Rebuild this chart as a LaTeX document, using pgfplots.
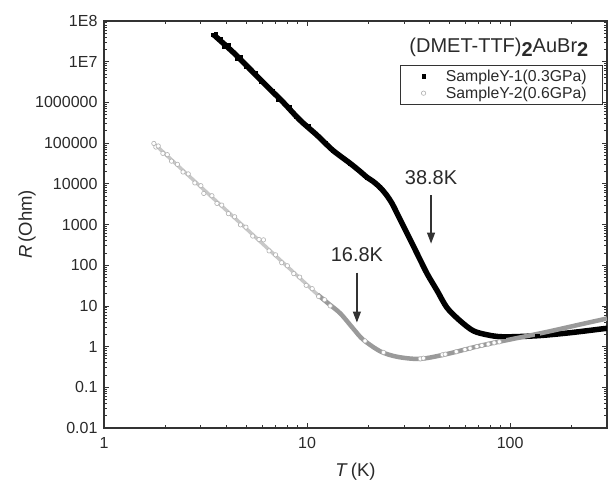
\documentclass[border=0pt]{standalone}
\usepackage{pgfplots}
\pgfplotsset{compat=1.18}
\usepackage{fontspec}
\setmainfont{Liberation Sans}
\setsansfont{Liberation Sans}
\usetikzlibrary{arrows.meta}
\definecolor{axisgray}{HTML}{333333}
\definecolor{ticktext}{HTML}{2A2A2A}
\definecolor{graymid}{HTML}{9A9A9A}
\definecolor{graylight}{HTML}{C8C8C8}
\definecolor{circgray}{HTML}{B0B0B0}

\begin{document}
\begin{tikzpicture}
\begin{axis}[
  at={(0pt,0pt)}, anchor=south west,
  scale only axis, width=503pt, height=407pt,
  xmode=log, ymode=log,
  xmin=1, xmax=300, ymin=0.01, ymax=1e8,
  xtick={1,10,100}, xticklabels={1,10,100},
  minor xtick={2,3,4,5,6,7,8,9,20,30,40,50,60,70,80,90,200},
  ytick={1e-2,1e-1,1,1e1,1e2,1e3,1e4,1e5,1e6,1e7,1e8},
  yticklabels={0.01,0.1,1,10,100,1000,10000,100000,1000000,1E7,1E8},
  minor ytick={2e-2,3e-2,4e-2,5e-2,6e-2,7e-2,8e-2,9e-2,
    2e-1,3e-1,4e-1,5e-1,6e-1,7e-1,8e-1,9e-1,
    2,3,4,5,6,7,8,9,20,30,40,50,60,70,80,90,
    200,300,400,500,600,700,800,900,
    2e3,3e3,4e3,5e3,6e3,7e3,8e3,9e3,
    2e4,3e4,4e4,5e4,6e4,7e4,8e4,9e4,
    2e5,3e5,4e5,5e5,6e5,7e5,8e5,9e5,
    2e6,3e6,4e6,5e6,6e6,7e6,8e6,9e6,
    2e7,3e7,4e7,5e7,6e7,7e7,8e7,9e7},
  tick align=inside,
  major tick length=5pt, minor tick length=2.8pt,
  every tick/.style={axisgray, line width=0.8pt},
  axis line style={axisgray, line width=1.1pt},
  tick label style={font=\fontsize{16}{18}\selectfont, text=ticktext},
  xticklabel style={yshift=-6pt},
  yticklabel style={xshift=-3pt},
  xlabel={\textit{T}\,(K)}, ylabel={\textit{R}\,(Ohm)},
  label style={font=\fontsize{18.5}{21}\selectfont, text=ticktext},
  xlabel style={at={(axis description cs:0.5,-0.108)}, anchor=center},
  ylabel style={at={(axis description cs:-0.153,0.5)}, anchor=center},
  legend image code/.code={\node[inner sep=0pt, minimum width=22pt, anchor=west] at (0pt,0pt) {};
    \draw[#1] plot coordinates {(10pt,0pt)};},
  legend style={at={(0.992,0.892)}, anchor=north east, draw=axisgray,
    line width=0.6pt, font=\fontsize{15.8}{18}\selectfont, text=ticktext,
    inner xsep=14pt, inner ysep=2.5pt, nodes={inner sep=2pt}, row sep=0pt,
    /tikz/every odd column/.append style={column sep=8pt}},
  legend cell align=left,
]
% Sample Y-1 line
\addplot[black, line width=5.5pt, smooth, tension=0.5, forget plot] coordinates {
(3.47,4.6e7) (4.35,1.66e7) (5.28,6.3e6) (6.40,2.4e6) (7.67,9.8e5) (9.24,3.65e5)
(11.2,1.56e5) (13.4,6.65e4) (16.3,3.18e4) (18.24,20200) (19.75,14400) (21.14,11460)
(22.88,8150) (24.5,5480) (26.22,3290) (28.08,1667) (30.05,844) (32.17,428)
(34.83,193) (39.0,62) (43.7,23.7) (48.9,9.0) (56.7,4.3) (65.8,2.45) (77.1,1.95)
(92.4,1.74) (136,1.85) (197,2.19) (286,2.74) (300,2.8)};
% Sample Y-1 points
\addplot[only marks, mark=square*, mark size=1.6pt, black] coordinates {
(3.42,4.7e7) (3.55,4.9e7) (3.75,3.7e7) (3.9,2.3e7) (4.1,2.6e7) (4.5,1.2e7)
(4.7,1.3e7) (5.0,7.5e6) (5.6,5.4e6) (5.9,3.2e6) (6.8,1.96e6) (7.2,1.2e6)
(8.2,7.6e5) (8.8,4.4e5) (10.2,2.6e5) (12.3,9.9e4)
(13.4,6.65e4) (16.3,3.18e4) (19.75,14400) (22.88,8150) (30.05,844) (39.0,62)
(48.9,9.0) (65.8,2.45) (92.4,1.74) (136,1.85) (197,2.19)};
\addlegendentry{SampleY-1(0.3GPa)}
% Sample Y-2 lines
\addplot[graylight, line width=3.5pt, smooth, tension=0.5, forget plot] coordinates {
(1.76,9.8e4) (2.2,3.5e4) (2.68,1.41e4) (3.3,5.4e3) (4.0,2.24e3) (4.88,900)
(6.0,347) (7.2,150) (8.58,67) (10,33) (11.26,19) (12.8,11.2) (14.6,6.5)};
\addplot[graymid, line width=4.5pt, smooth, tension=0.5, forget plot] coordinates {
(11.26,19) (12.8,11.2) (14.6,6.5) (16.9,2.75) (18.9,1.48) (23.0,0.76) (27.9,0.56)
(36.1,0.50) (49.0,0.66) (71.2,1.05) (103.5,1.55) (152,2.3) (221,3.5) (300,4.9)};
% Sample Y-2 points
\addplot[only marks, mark=*, mark size=2.2pt, mark options={draw=circgray, fill=white, line width=0.6pt}] coordinates {
(1.76,9.8e4) (1.8,8.0e4) (1.85,8.5e4) (1.95,5.6e4) (2.05,5.2e4) (2.15,3.6e4)
(2.3,3.0e4) (2.45,1.95e4) (2.6,1.75e4) (2.8,1.05e4) (3.0,9.0e3) (3.1,5.8e3)
(3.4,5.1e3) (3.6,3.3e3) (3.8,3.0e3) (4.1,1.85e3) (4.4,1.55e3) (4.7,980)
(5.0,860) (5.4,520) (5.8,430) (6.1,420) (6.5,225) (7.0,180) (7.5,115) (8.0,97)
(8.6,62) (9.2,51) (9.9,32) (10.6,26.5) (11.4,17) (12.2,14.2) (13.0,10)
(19.3,1.38) (23.8,0.72) (36.1,0.50) (37.4,0.52) (46.4,0.63) (47.9,0.65)
(54.3,0.75) (59.9,0.845) (63.5,0.91) (68.6,1.0) (72.6,1.07) (78,1.15)
(83.4,1.24) (88.5,1.31)};
\addlegendentry{SampleY-2(0.6GPa)}
% annotations
\node[font=\fontsize{20}{22}\selectfont, text=ticktext] at (axis cs:17.6,182) {16.8K};
\draw[-{Triangle[length=11pt,width=8pt]}, line width=1.2pt, axisgray]
  (axis cs:17.6,66) -- (axis cs:17.6,3.9);
\node[font=\fontsize{20}{22}\selectfont, text=ticktext] at (axis cs:40.8,14400) {38.8K};
\draw[-{Triangle[length=11pt,width=8pt]}, line width=1.2pt, axisgray]
  (axis cs:40.8,5180) -- (axis cs:40.8,340);
\node[font=\fontsize{20}{22}\selectfont, text=ticktext] at (rel axis cs:0.785,0.936)
  {(DMET-TTF)\raisebox{-4pt}{\textbf{2}}AuBr\raisebox{-4pt}{\textbf{2}}};
\end{axis}
\pgfresetboundingbox
\path (-104pt,-55pt) rectangle (505pt,428pt);
\end{tikzpicture}
\end{document}
